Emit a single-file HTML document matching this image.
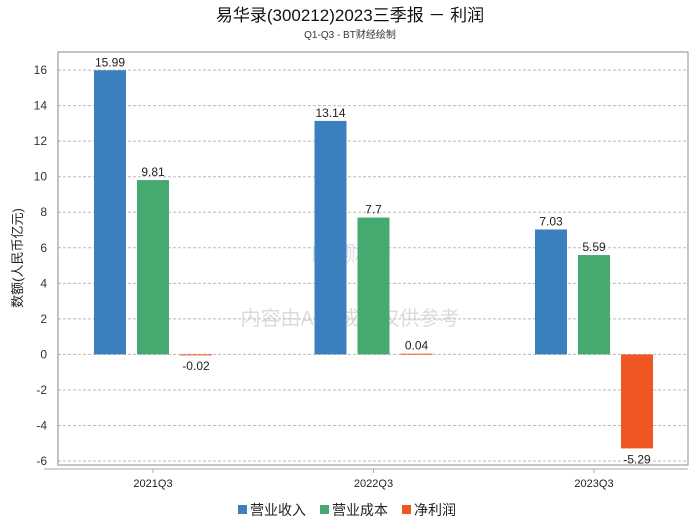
<!DOCTYPE html>
<html><head><meta charset="utf-8"><style>
body{margin:0;background:#fff;font-family:"Liberation Sans","Noto Sans CJK SC",sans-serif;}
</style></head><body>
<svg width="700" height="524" xmlns="http://www.w3.org/2000/svg" font-family="Liberation Sans, Noto Sans CJK SC, sans-serif">
<text x="350" y="21" text-anchor="middle" font-size="17" fill="#111">易华录(300212)2023三季报 － 利润</text>
<text x="350" y="38" text-anchor="middle" font-size="10" fill="#333">Q1-Q3 - BT财经绘制</text>
<g id="grid"></g>
<rect x="58" y="52" width="630" height="413" fill="none" stroke="#888"/>
<line x1="44" y1="469" x2="688" y2="469" stroke="#aaa"/>
<text x="350" y="262" text-anchor="middle" font-size="22" fill="#ccd" opacity="0.6">BT 财经</text>
<text x="350" y="325" text-anchor="middle" font-size="20" fill="#ccc" opacity="0.7">内容由AI生成，仅供参考</text>
<g id="bars"></g>
<text transform="translate(22,258) rotate(-90)" text-anchor="middle" font-size="13" fill="#222">数额(人民币亿元)</text>
<g font-size="14" fill="#222">
<rect x="238" y="505" width="9" height="9" fill="#3a80be"/><text x="250" y="515">营业收入</text>
<rect x="320" y="505" width="9" height="9" fill="#46a96f"/><text x="332" y="515">营业成本</text>
<rect x="402" y="505" width="9" height="9" fill="#f05524"/><text x="414" y="515">净利润</text>
</g>
</svg>
<script>
const categories=["2021Q3","2022Q3","2023Q3"];
const revenue=[15.99,13.14,7.03];
const cost=[9.81,7.7,5.59];
const profit=[-0.02,0.04,-5.29];
const yTicks=[16,14,12,10,8,6,4,2,0,-2,-4,-6];
const seriesNames=["营业收入","营业成本","净利润"];
const colors=["#3a80be","#46a96f","#f05524"];
const NS="http://www.w3.org/2000/svg";
const y=v=>354.4-v*17.77;
const x=i=>153+i*220.5;
const grid=document.getElementById('grid'),bars=document.getElementById('bars');
function mk(tag,attrs,parent){const e=document.createElementNS(NS,tag);for(const k in attrs)e.setAttribute(k,attrs[k]);parent.appendChild(e);return e;}
yTicks.forEach(t=>{
  const l=mk('line',{x1:58,x2:688,y1:y(t),y2:y(t),stroke:'#bbb','stroke-dasharray':'3,2'},grid);
  
  
  const tx=mk('text',{x:47,y:y(t)+4,'text-anchor':'end','font-size':12,fill:'#333'},grid);
  tx.textContent=t;
  
  
});
const series=[revenue,cost,profit];
categories.forEach((c,i)=>{
  const tk=mk('line',{x1:x(i),x2:x(i),y1:469,y2:473,stroke:'#aaa'},grid);
  const lb=mk('text',{x:x(i),y:487,'text-anchor':'middle','font-size':11,fill:'#222'},grid);
  lb.textContent=c;
  
  
  series.forEach((s,j)=>{
    const v=s[i];const cx=x(i)+(j-1)*43;
    const top=Math.min(y(v),y(0)),h=Math.max(Math.abs(y(v)-y(0)),1);
    const r=mk('rect',{x:cx-16,y:top,width:32,height:h,fill:colors[j]},bars);
    
    
    const t=mk('text',{x:cx,y:v>=0?y(v)-4:y(v)+15,'text-anchor':'middle','font-size':12,fill:'#222'},bars);
    t.textContent=v;
    
    
  });
});
</script>
</body></html>
